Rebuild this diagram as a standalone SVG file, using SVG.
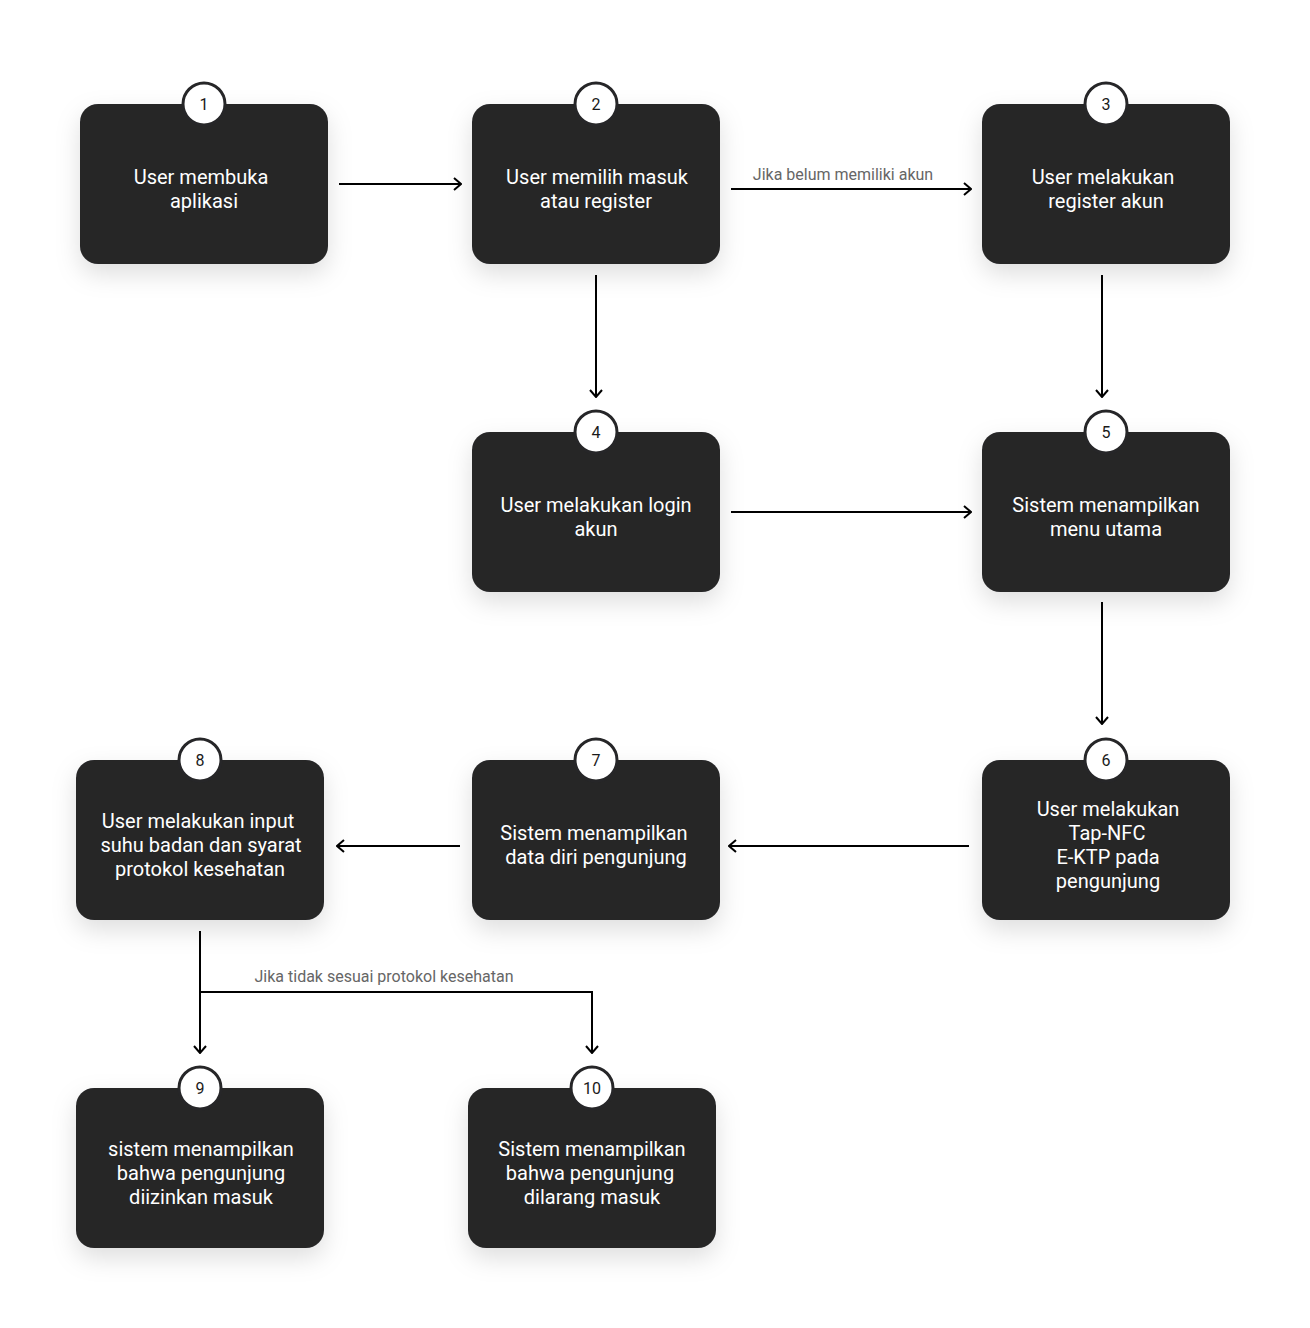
<svg xmlns="http://www.w3.org/2000/svg" width="1310" height="1328" viewBox="0 0 1310 1328">
<defs>
<filter id="sh" x="-30%" y="-30%" width="160%" height="170%">
<feDropShadow dx="0" dy="10" stdDeviation="12" flood-color="#000" flood-opacity="0.13"/>
</filter>
<marker id="ah" viewBox="0 0 12 14" refX="11" refY="7" markerWidth="12" markerHeight="14" markerUnits="userSpaceOnUse" orient="auto">
<path d="M4,1 L11,7 L4,13" fill="none" stroke="#000" stroke-width="2"/>
</marker>
<style>
.box{fill:#262628;filter:url(#sh)}
.badge{fill:#fff;stroke:#262628;stroke-width:3}
.bt{font-family:Roboto,"Liberation Sans",sans-serif;font-size:16px;fill:#1a1a1a;text-anchor:middle}
.t{font-family:Roboto,"Liberation Sans",sans-serif;font-size:20px;fill:#fff;text-anchor:middle}
.c{fill:none;stroke:#000;stroke-width:2}
.lbl{font-family:Roboto,"Liberation Sans",sans-serif;font-size:16px;fill:#666;text-anchor:middle}
</style>
</defs>
<rect width="1310" height="1328" fill="#fff"/>
<g id="connectors">
<line class="c" x1="339" y1="184" x2="461" y2="184" marker-end="url(#ah)"/>
<line class="c" x1="731" y1="189" x2="971" y2="189" marker-end="url(#ah)"/>
<text class="lbl" x="843" y="180">Jika belum memiliki akun</text>
<line class="c" x1="596" y1="275" x2="596" y2="397" marker-end="url(#ah)"/>
<line class="c" x1="1102" y1="275" x2="1102" y2="397" marker-end="url(#ah)"/>
<line class="c" x1="731" y1="512" x2="971" y2="512" marker-end="url(#ah)"/>
<line class="c" x1="1102" y1="602" x2="1102" y2="724" marker-end="url(#ah)"/>
<line class="c" x1="969" y1="846" x2="729" y2="846" marker-end="url(#ah)"/>
<line class="c" x1="460" y1="846" x2="337" y2="846" marker-end="url(#ah)"/>
<line class="c" x1="200" y1="931" x2="200" y2="1053" marker-end="url(#ah)"/>
<path class="c" d="M200,992 H592 V1053" marker-end="url(#ah)"/>
<text class="lbl" x="384" y="982">Jika tidak sesuai protokol kesehatan</text>
</g>
<g id="node1"><rect class="box" x="80" y="104" width="248" height="160" rx="18"/><circle class="badge" cx="204" cy="104" r="21"/><text class="bt" x="204" y="110">1</text><text class="t" x="201" y="184">User membuka</text><text class="t" x="204" y="208">aplikasi</text></g>
<g id="node2"><rect class="box" x="472" y="104" width="248" height="160" rx="18"/><circle class="badge" cx="596" cy="104" r="21"/><text class="bt" x="596" y="110">2</text><text class="t" x="597" y="184">User memilih masuk</text><text class="t" x="596" y="208">atau register</text></g>
<g id="node3"><rect class="box" x="982" y="104" width="248" height="160" rx="18"/><circle class="badge" cx="1106" cy="104" r="21"/><text class="bt" x="1106" y="110">3</text><text class="t" x="1103" y="184">User melakukan</text><text class="t" x="1106" y="208">register akun</text></g>
<g id="node4"><rect class="box" x="472" y="432" width="248" height="160" rx="18"/><circle class="badge" cx="596" cy="432" r="21"/><text class="bt" x="596" y="438">4</text><text class="t" x="596" y="512">User melakukan login</text><text class="t" x="596" y="536">akun</text></g>
<g id="node5"><rect class="box" x="982" y="432" width="248" height="160" rx="18"/><circle class="badge" cx="1106" cy="432" r="21"/><text class="bt" x="1106" y="438">5</text><text class="t" x="1106" y="512">Sistem menampilkan</text><text class="t" x="1106" y="536">menu utama</text></g>
<g id="node6"><rect class="box" x="982" y="760" width="248" height="160" rx="18"/><circle class="badge" cx="1106" cy="760" r="21"/><text class="bt" x="1106" y="766">6</text><text class="t" x="1108" y="816">User melakukan</text><text class="t" x="1107" y="840">Tap-NFC</text><text class="t" x="1108" y="864">E-KTP pada</text><text class="t" x="1108" y="888">pengunjung</text></g>
<g id="node7"><rect class="box" x="472" y="760" width="248" height="160" rx="18"/><circle class="badge" cx="596" cy="760" r="21"/><text class="bt" x="596" y="766">7</text><text class="t" x="594" y="840">Sistem menampilkan</text><text class="t" x="596" y="864">data diri pengunjung</text></g>
<g id="node8"><rect class="box" x="76" y="760" width="248" height="160" rx="18"/><circle class="badge" cx="200" cy="760" r="21"/><text class="bt" x="200" y="766">8</text><text class="t" x="198" y="828">User melakukan input</text><text class="t" x="201" y="852">suhu badan dan syarat</text><text class="t" x="200" y="876">protokol kesehatan</text></g>
<g id="node9"><rect class="box" x="76" y="1088" width="248" height="160" rx="18"/><circle class="badge" cx="200" cy="1088" r="21"/><text class="bt" x="200" y="1094">9</text><text class="t" x="201" y="1156">sistem menampilkan</text><text class="t" x="201" y="1180">bahwa pengunjung</text><text class="t" x="201" y="1204">diizinkan masuk</text></g>
<g id="node10"><rect class="box" x="468" y="1088" width="248" height="160" rx="18"/><circle class="badge" cx="592" cy="1088" r="21"/><text class="bt" x="592" y="1094">10</text><text class="t" x="592" y="1156">Sistem menampilkan</text><text class="t" x="590" y="1180">bahwa pengunjung</text><text class="t" x="592" y="1204">dilarang masuk</text></g>
</svg>
